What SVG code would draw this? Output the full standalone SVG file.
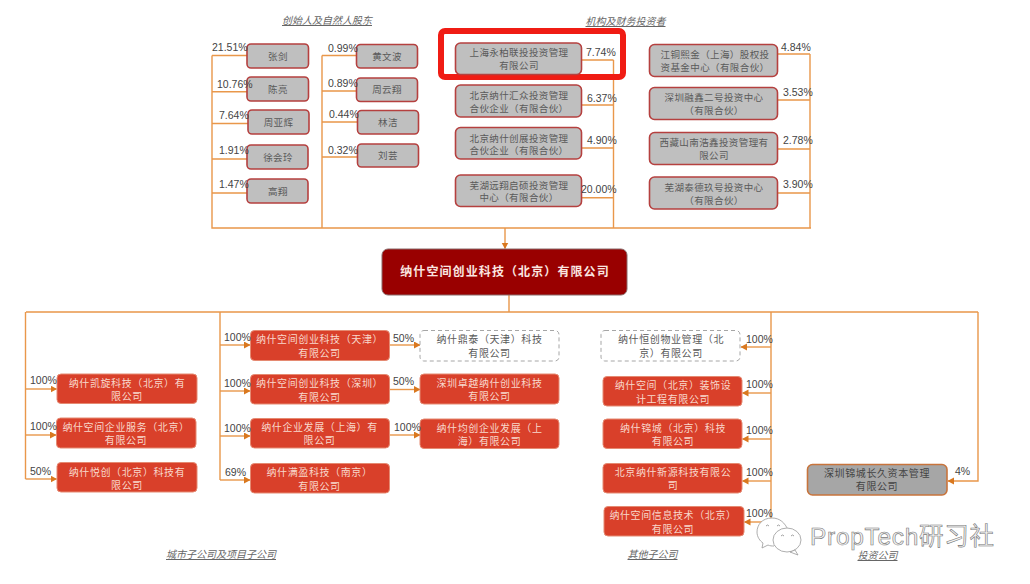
<svg xmlns="http://www.w3.org/2000/svg" width="1030" height="584" viewBox="0 0 1030 584">
<style>
text{font-family:"Noto Sans CJK SC","Liberation Sans",sans-serif}
.w{text-anchor:middle;font-size:9.5px;letter-spacing:.4px;fill:#5a5a5a}
.r{text-anchor:middle;font-size:10px;letter-spacing:.6px;fill:#f8d8cc}
.g{fill:#bfbfbf;stroke:#b5403f;stroke-width:1.6}
.d{fill:#d9402a;stroke:#e58a72;stroke-width:1}
.n{fill:#fff;stroke:#a6a6a6;stroke-width:1;stroke-dasharray:4 3}
.p{font-family:"Liberation Sans",Arial,sans-serif;font-size:10.5px;fill:#444}
.h{text-anchor:middle;font-size:10px;font-style:italic;fill:#666;text-decoration:underline}
.c path{fill:none;stroke:#e9974a;stroke-width:1.4}
.c path.a{marker-end:url(#ar)}
</style>
<defs>
<marker id="ar" markerUnits="userSpaceOnUse" markerWidth="8" markerHeight="8" refX="6" refY="3.5" orient="auto"><path d="M0 0L6.500 3.500L0 7Z" fill="#d9781f"/></marker>
</defs>
<rect width="1030" height="584" fill="#fff"/>
<g id="connectors" class="c">
<path d="M212 55.500V228H811M322 55.500V228M810 54V228M613.500 60V228"/>
<path d="M212 55.500H247M212 91.700H247M212 123.500H248M212 159H247M212 193H247"/>
<path d="M322 55.500H356M322 91H356M322 122H357M322 157H357"/>
<path d="M582 60H613.500M582 105H613.500M582 148H613.500M582 197.700H613.500"/>
<path d="M778 54H810M778 100H810M778 149H810M778 193H810"/>
<path class="a" d="M505 228V248.500"/>
<path d="M509 295V312M26 312H978"/>
<path d="M25.500 312V479"/>
<path class="a" d="M25.500 389H56.500"/>
<path class="a" d="M25.500 435H56"/>
<path class="a" d="M25.500 479H56.500"/>
<path d="M220 312V480"/>
<path class="a" d="M220 345H250"/>
<path class="a" d="M220 391H250"/>
<path class="a" d="M220 436H250"/>
<path class="a" d="M220 480H250"/>
<path class="a" d="M389 345H420"/>
<path class="a" d="M389 389.500H420"/>
<path class="a" d="M389 435H420"/>
<path d="M771 312V522"/>
<path class="a" d="M771 347H741"/>
<path class="a" d="M771 393H742.500"/>
<path class="a" d="M771 439H742.500"/>
<path class="a" d="M771 481H742.500"/>
<path class="a" d="M771 522H744.500"/>
<path class="a" d="M978 312V481H948"/>
</g>
<rect id="highlight" x="441" y="31" width="182" height="46" rx="4" fill="none" stroke="#f01c14" stroke-width="6"/>
<text class="h" x="327" y="24">创始人及自然人股东</text>
<text class="h" x="625.500" y="25">机构及财务投资者</text>
<text class="h" x="221" y="558">城市子公司及项目子公司</text>
<text class="h" x="652.500" y="558">其他子公司</text>
<text class="h" x="877.500" y="559">投资公司</text>

<g id="n-zhangjian"><rect class="g" x="247" y="44" width="61.500" height="24" rx="4"/><text class="w" x="278" y="59.500">张剑</text></g>
<g id="n-chenliang"><rect class="g" x="247" y="77" width="61.500" height="24" rx="4"/><text class="w" x="278" y="92.500">陈亮</text></g>
<g id="n-zhouyahui"><rect class="g" x="248" y="110" width="61" height="24" rx="4"/><text class="w" x="278.500" y="125.500">周亚辉</text></g>
<g id="n-xuhuiling"><rect class="g" x="247" y="145" width="61" height="24" rx="4"/><text class="w" x="278" y="160.500">徐会玲</text></g>
<g id="n-gaoxiang"><rect class="g" x="247" y="179" width="61" height="24" rx="4"/><text class="w" x="278" y="194.500">高翔</text></g>
<g id="n-huangwenbo"><rect class="g" x="356.500" y="44.500" width="61" height="23.500" rx="4"/><text class="w" x="387" y="59.500">黄文波</text></g>
<g id="n-zhouyunxiang"><rect class="g" x="356.500" y="78" width="61" height="23.500" rx="4"/><text class="w" x="387" y="93">周云翔</text></g>
<g id="n-linjie"><rect class="g" x="357.500" y="110.500" width="61" height="23.500" rx="4"/><text class="w" x="388" y="125.500">林洁</text></g>
<g id="n-liuyun"><rect class="g" x="357.500" y="144" width="61" height="23" rx="4"/><text class="w" x="388" y="159">刘芸</text></g>

<g id="n-yongbai"><rect class="g" x="455.500" y="43" width="126" height="31.500" rx="5"/><text class="w" x="519" y="56.300">上海永柏联投投资管理</text><text class="w" x="519" y="69">有限公司</text></g>
<g id="n-huizhong"><rect class="g" x="455.500" y="85" width="126" height="32" rx="5"/><text class="w" x="519" y="99">北京纳什汇众投资管理</text><text class="w" x="519" y="111.500">合伙企业（有限合伙）</text></g>
<g id="n-chuangzhan"><rect class="g" x="455.500" y="127.500" width="126" height="31.500" rx="5"/><text class="w" x="519" y="141.500">北京纳什创展投资管理</text><text class="w" x="519" y="154">合伙企业（有限合伙）</text></g>
<g id="n-yuanxiang"><rect class="g" x="455.500" y="175" width="126" height="31.500" rx="5"/><text class="w" x="519" y="188.500">芜湖远翔启硕投资管理</text><text class="w" x="519" y="201">中心（有限合伙）</text></g>

<g id="n-jiangtong"><rect class="g" x="649.500" y="44.500" width="128" height="32" rx="5"/><text class="w" x="715" y="58">江铜熙金（上海）股权投</text><text class="w" x="715" y="70.500">资基金中心（有限合伙）</text></g>
<g id="n-ronghong"><rect class="g" x="649.500" y="87.500" width="128" height="32" rx="5"/><text class="w" x="714" y="101">深圳融鑫二号投资中心</text><text class="w" x="714" y="113.500">（有限合伙）</text></g>
<g id="n-nanhao"><rect class="g" x="649.500" y="132.500" width="128" height="32" rx="5"/><text class="w" x="714" y="146">西藏山南浩鑫投资管理有</text><text class="w" x="714" y="158.500">限公司</text></g>
<g id="n-taide"><rect class="g" x="649.500" y="177" width="128" height="32" rx="5"/><text class="w" x="714" y="191">芜湖泰德玖号投资中心</text><text class="w" x="714" y="203.500">（有限合伙）</text></g>

<g id="n-main"><rect x="382" y="249" width="245" height="46" rx="6" fill="#990000" stroke="#8a6a6a" stroke-width="1"/><text x="505" y="276" text-anchor="middle" font-size="12px" font-weight="700" letter-spacing="1.100" fill="#fbe6e0">纳什空间创业科技（北京）有限公司</text></g>

<g id="n-kaixuan"><rect class="d" x="57" y="374" width="140" height="29.500" rx="4"/><text class="r" x="127" y="387">纳什凯旋科技（北京）有</text><text class="r" x="127" y="400">限公司</text></g>
<g id="n-qiye"><rect class="d" x="56.500" y="418" width="139.500" height="30" rx="4"/><text class="r" x="126" y="430.500">纳什空间企业服务（北京）</text><text class="r" x="126" y="444">有限公司</text></g>
<g id="n-yuechuang"><rect class="d" x="57" y="462.500" width="140" height="29.500" rx="4"/><text class="r" x="127" y="475.500">纳什悦创（北京）科技有</text><text class="r" x="127" y="488.500">限公司</text></g>

<g id="n-tianjin"><rect class="d" x="250.500" y="330.500" width="139" height="30" rx="4"/><text class="r" x="319.500" y="343">纳什空间创业科技（天津）</text><text class="r" x="319.500" y="356.500">有限公司</text></g>
<g id="n-shenzhen"><rect class="d" x="250.500" y="374.500" width="139" height="29.500" rx="4"/><text class="r" x="319.500" y="387">纳什空间创业科技（深圳）</text><text class="r" x="319.500" y="400.500">有限公司</text></g>
<g id="n-shanghai"><rect class="d" x="250.500" y="418.500" width="139" height="29.500" rx="4"/><text class="r" x="319.500" y="431">纳什企业发展（上海）有</text><text class="r" x="319.500" y="444">限公司</text></g>
<g id="n-manying"><rect class="d" x="250.500" y="463.500" width="139" height="29.500" rx="4"/><text class="r" x="319.500" y="476">纳什满盈科技（南京）</text><text class="r" x="319.500" y="489.500">有限公司</text></g>
<g id="n-dingtai"><rect class="n" x="420" y="330.500" width="139" height="30.500" rx="4"/><text class="w" x="489.500" y="343" style="font-size:10px;letter-spacing:.6px">纳什鼎泰（天津）科技</text><text class="w" x="489.500" y="356.500" style="font-size:10px;letter-spacing:.6px">有限公司</text></g>
<g id="n-zhuoyue"><rect class="d" x="420" y="374" width="139" height="30" rx="4"/><text class="r" x="489.500" y="386.500">深圳卓越纳什创业科技</text><text class="r" x="489.500" y="400">有限公司</text></g>
<g id="n-junchuang"><rect class="d" x="420" y="419" width="139" height="29.500" rx="4"/><text class="r" x="489.500" y="432">纳什均创企业发展（上</text><text class="r" x="489.500" y="445">海）有限公司</text></g>

<g id="n-hengchuang"><rect class="n" x="601" y="330.500" width="139" height="30.500" rx="4"/><text class="w" x="671" y="343" style="font-size:10px;letter-spacing:.6px">纳什恒创物业管理（北</text><text class="w" x="671" y="356.500" style="font-size:10px;letter-spacing:.6px">京）有限公司</text></g>
<g id="n-zhuangshi"><rect class="d" x="603" y="376.500" width="139" height="29.500" rx="4"/><text class="r" x="673" y="389">纳什空间（北京）装饰设</text><text class="r" x="673" y="402.500">计工程有限公司</text></g>
<g id="n-jincheng"><rect class="d" x="603" y="419" width="139" height="29.500" rx="4"/><text class="r" x="673" y="431.500">纳什锦城（北京）科技</text><text class="r" x="673" y="445">有限公司</text></g>
<g id="n-xinyuan"><rect class="d" x="603" y="463.500" width="139" height="29.500" rx="4"/><text class="r" x="673" y="475.500">北京纳什新源科技有限公</text><text class="r" x="673" y="489">司</text></g>
<g id="n-xinxi"><rect class="d" x="604" y="506.500" width="140" height="29.500" rx="4"/><text class="r" x="673" y="518.500">纳什空间信息技术（北京）</text><text class="r" x="673" y="532.500">有限公司</text></g>

<g id="n-changjiu"><rect x="807.500" y="464.500" width="139.500" height="30.500" rx="5" fill="#a6a6a6" stroke="#c8743c" stroke-width="1.600"/><text class="w" x="877" y="476.500" style="font-size:10px;letter-spacing:.6px;fill:#444">深圳锦城长久资本管理</text><text class="w" x="877" y="490" style="font-size:10px;letter-spacing:.6px;fill:#444">有限公司</text></g>

<g id="percent-labels">
<text class="p" x="212" y="51">21.51%</text><text class="p" x="217" y="88">10.76%</text><text class="p" x="219" y="119">7.64%</text><text class="p" x="219" y="154">1.91%</text><text class="p" x="219" y="188">1.47%</text>
<text class="p" x="328" y="52">0.99%</text><text class="p" x="328" y="87">0.89%</text><text class="p" x="329" y="118">0.44%</text><text class="p" x="328" y="154">0.32%</text>
<text class="p" x="586" y="56">7.74%</text><text class="p" x="587" y="102">6.37%</text><text class="p" x="587" y="144">4.90%</text><text class="p" x="581" y="193">20.00%</text>
<text class="p" x="781" y="51">4.84%</text><text class="p" x="783" y="96">3.53%</text><text class="p" x="783" y="144">2.78%</text><text class="p" x="783" y="188">3.90%</text>
<text class="p" x="30" y="384">100%</text><text class="p" x="30" y="430">100%</text><text class="p" x="30" y="475">50%</text>
<text class="p" x="224" y="341">100%</text><text class="p" x="224" y="387">100%</text><text class="p" x="224" y="432">100%</text><text class="p" x="225" y="476">69%</text>
<text class="p" x="393" y="342">50%</text><text class="p" x="393" y="385">50%</text><text class="p" x="394" y="431">100%</text>
<text class="p" x="746" y="343">100%</text><text class="p" x="746" y="388">100%</text><text class="p" x="746" y="434">100%</text><text class="p" x="746" y="476">100%</text><text class="p" x="746" y="517">100%</text>
<text class="p" x="955" y="475">4%</text>
</g>

<g id="watermark">
<path d="M772 518C762 518 757 525 757 532C757 537 760 541 763 543L762 548L768 545C770 546 772 546 774 546L788 530C785 523 780 518 772 518Z" fill="#fff" stroke="#999" stroke-width=".8"/>
<ellipse cx="787" cy="540" rx="14" ry="12" fill="#fff" stroke="#999" stroke-width=".8"/>
<path d="M795 550L798 555L790 552Z" fill="#fff" stroke="#999" stroke-width=".8"/>
<path d="M766 526q1.500-2 3 0M777 526q1.500-2 3 0M781 536q1.500-2 3 0M791 536q1.500-2 3 0" fill="none" stroke="#888" stroke-width=".8"/>
<text x="810" y="544.500" font-size="24.500px" letter-spacing=".7" fill="#f4f4f4" stroke="#777" stroke-width=".6" style="font-family:'Liberation Sans','Noto Sans CJK SC',sans-serif">PropTech研习社</text>
</g>
</svg>
